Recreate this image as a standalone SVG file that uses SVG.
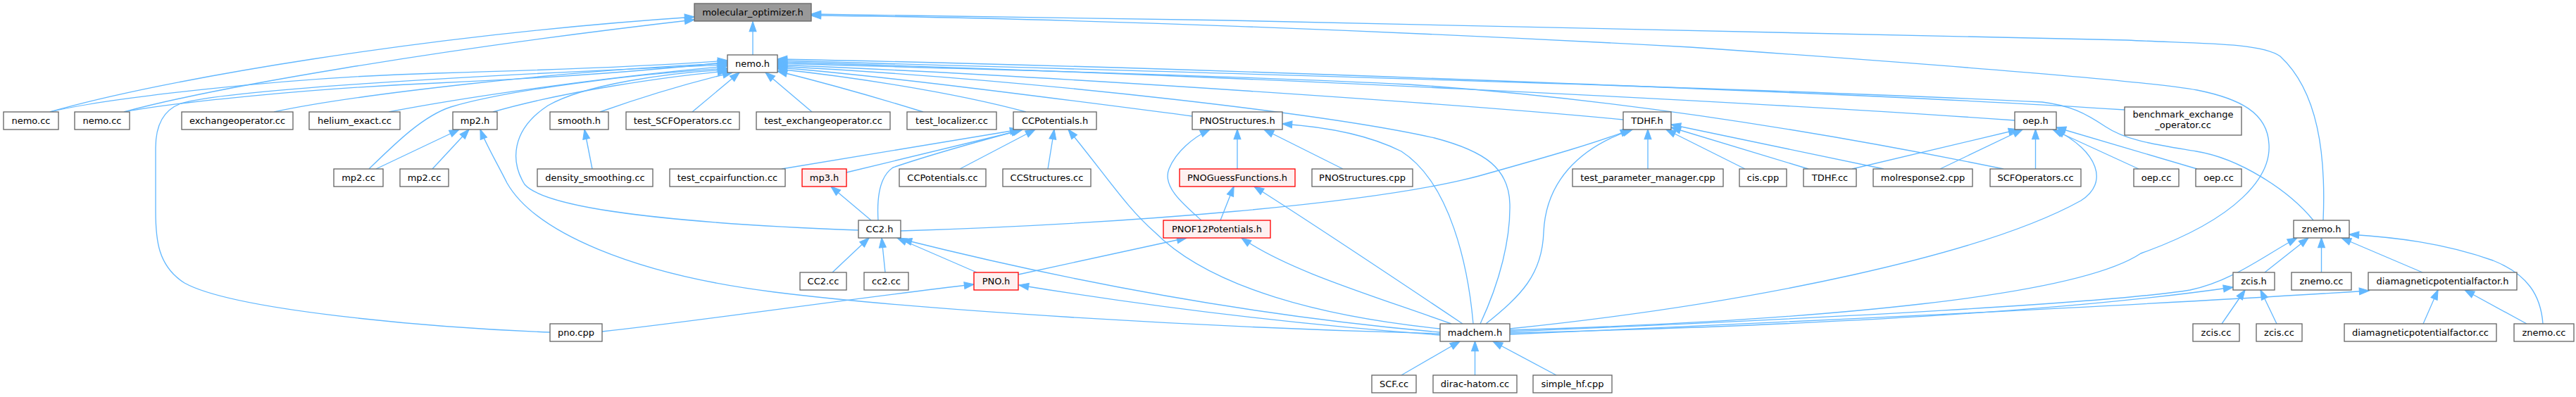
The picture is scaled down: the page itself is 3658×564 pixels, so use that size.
<svg xmlns="http://www.w3.org/2000/svg" width="3658" height="564" viewBox="0 0 3658 564">
<defs>
<style>
.node rect{fill:#ffffff;stroke:#666666;stroke-width:1.33}
.node.root rect{fill:#999999}
.node.red rect{fill:#fff0f0;stroke:#ff0000}
.node text{font-family:"DejaVu Sans","Liberation Sans",sans-serif;font-size:13px;fill:#000000;text-anchor:middle}
#edges path{fill:none;stroke:#63b8ff;stroke-width:1.33;marker-end:url(#arr)}
</style>
<marker id="arr" markerUnits="userSpaceOnUse" markerWidth="14" markerHeight="10" viewBox="0 0 13.3 9.4" refX="13" refY="4.7" orient="auto" overflow="visible">
<path d="M0,0 L13.3,4.7 L0,9.4 Z" fill="#63b8ff" stroke="#63b8ff" stroke-width="1"/>
</marker>
</defs>
<rect width="3658" height="564" fill="#ffffff"/>
<g id="edges">
<path d="M1069,78 L1069,31"/>
<path d="M71,159 C230,113 600,50 986,24"/>
<path d="M176,159 C300,125 620,70 986,28"/>
<path d="M3299,313 C3303,220 3292,130 3238,80 C3210,60 3120,62 3020,57 C2600,45 1800,28 1152,20"/>
<path d="M2144,469 C2600,455 2950,420 3040,360 C3180,310 3225,250 3222,205 C3220,160 3180,140 3120,128 C3060,117 2800,95 2400,67 C2000,45 1500,25 1152,22"/>
<path d="M71,159 C150,140 400,110 620,104 C800,99 950,92 1033,86"/>
<path d="M176,159 C250,145 450,125 620,118 C800,110 950,98 1033,88"/>
<path d="M389,159 C500,135 800,100 1033,90"/>
<path d="M552,159 C650,140 850,110 1033,94"/>
<path d="M524,240 C560,205 600,165 640,152 C720,128 900,105 1033,97"/>
<path d="M781,472 C600,465 330,440 262,402 C224,378 221,340 221,300 L221,210 C221,175 235,155 257,147 C320,128 650,108 1033,92"/>
<path d="M1219,327 C900,315 770,290 745,262 C725,230 725,185 778,150 C830,120 950,103 1033,99"/>
<path d="M700,159 C800,130 950,108 1033,101"/>
<path d="M852,159 C920,135 990,115 1040,103"/>
<path d="M983,159 L1050,103"/>
<path d="M1153,159 L1087,103"/>
<path d="M1311,159 C1250,140 1160,115 1104,101"/>
<path d="M1457,159 C1350,130 1200,108 1104,98"/>
<path d="M1693,165 C1500,140 1250,107 1104,96"/>
<path d="M2102,460 C2130,400 2145,340 2144,290 C2143,240 2110,215 2037,196 C1900,165 1500,115 1104,94"/>
<path d="M2305,170 C2100,150 1500,108 1104,92"/>
<path d="M2845,240 C2600,190 2300,140 2000,120 C1700,105 1300,96 1104,90"/>
<path d="M2861,171 C2500,145 1700,105 1104,88"/>
<path d="M3285,313 C3250,270 3180,225 3119,215 C3060,205 3020,200 2990,180 C2960,160 2940,150 2900,145 C2500,125 1600,100 1104,86"/>
<path d="M3017,156 C2700,135 1700,95 1104,84"/>
<path d="M534,240 L652,184"/>
<path d="M614,240 L666,184"/>
<path d="M2045,474 C1700,465 1300,440 1100,415 C900,390 760,330 720,260 C705,230 690,205 682,184"/>
<path d="M841,240 L830,184"/>
<path d="M1110,240 L1448,184"/>
<path d="M1202,245 L1450,185"/>
<path d="M1247,313 C1245,280 1250,250 1268,238 C1320,220 1400,198 1452,184"/>
<path d="M1363,240 L1470,184"/>
<path d="M1488,240 L1497,184"/>
<path d="M2045,467 C1880,450 1720,410 1640,330 C1600,295 1575,255 1517,184"/>
<path d="M1237,313 L1180,265"/>
<path d="M1182,387 L1234,338"/>
<path d="M1257,387 L1252,338"/>
<path d="M1387,387 L1274,338"/>
<path d="M2045,472 C1850,455 1600,420 1281,340"/>
<path d="M1279,328 C1600,318 1950,290 2100,250 C2200,222 2270,202 2315,184"/>
<path d="M855,471 C1000,455 1200,425 1383,404"/>
<path d="M2045,476 C1800,458 1600,430 1447,405"/>
<path d="M1446,390 L1685,338"/>
<path d="M1757,240 L1757,184"/>
<path d="M1706,313 C1680,290 1650,265 1660,240 C1670,215 1695,195 1718,184"/>
<path d="M1907,240 L1795,184"/>
<path d="M2092,460 C2085,380 2060,260 1990,215 C1940,190 1880,180 1821,176"/>
<path d="M1733,313 L1752,265"/>
<path d="M2077,460 C1980,395 1860,315 1781,265"/>
<path d="M2061,460 C1950,420 1830,385 1763,338"/>
<path d="M2110,460 C2160,420 2190,390 2192,330 C2195,260 2240,210 2318,184"/>
<path d="M2340,240 L2340,184"/>
<path d="M2478,240 L2366,184"/>
<path d="M2568,240 L2373,181"/>
<path d="M2675,240 L2373,177"/>
<path d="M2630,240 L2866,184"/>
<path d="M2755,240 L2872,184"/>
<path d="M2890.5,240 L2890.5,184"/>
<path d="M3037,240 L2915,184"/>
<path d="M3120,240 L2920,181"/>
<path d="M2144,467 C2500,430 2820,360 2955,285 C2995,260 2980,215 2918,184"/>
<path d="M3216,387 L3278,338"/>
<path d="M3296.5,387 L3296.5,338"/>
<path d="M3440,387 L3325,338"/>
<path d="M3611,460 C3608,420 3590,390 3540,370 C3470,345 3400,337 3336,333"/>
<path d="M2144,471 C2600,452 3000,430 3110,412 C3170,400 3220,360 3262,338"/>
<path d="M3155,460 L3188,412"/>
<path d="M3233,460 L3210,412"/>
<path d="M2144,473 C2600,462 2950,440 3171,408"/>
<path d="M3441,460 L3462,412"/>
<path d="M3588,460 L3500,412"/>
<path d="M2144,475 C2600,455 3000,436 3364,413"/>
<path d="M1990,533 L2073,485"/>
<path d="M2094.5,533 L2094.5,485"/>
<path d="M2210,533 L2120,485"/>
</g>
<g id="n0" class="node root"><rect x="986" y="5" width="166" height="25"/><text x="1069" y="22">molecular_optimizer.h</text></g>
<g id="n1" class="node"><rect x="1033" y="78" width="71" height="25"/><text x="1068.5" y="95">nemo.h</text></g>
<g id="n2" class="node"><rect x="5" y="159" width="78" height="25"/><text x="44" y="176">nemo.cc</text></g>
<g id="n3" class="node"><rect x="106" y="159" width="78" height="25"/><text x="145" y="176">nemo.cc</text></g>
<g id="n4" class="node"><rect x="258" y="159" width="158" height="25"/><text x="337" y="176">exchangeoperator.cc</text></g>
<g id="n5" class="node"><rect x="439" y="159" width="129" height="25"/><text x="503.5" y="176">helium_exact.cc</text></g>
<g id="n6" class="node"><rect x="643" y="159" width="63" height="25"/><text x="674.5" y="176">mp2.h</text></g>
<g id="n7" class="node"><rect x="781" y="159" width="83" height="25"/><text x="822.5" y="176">smooth.h</text></g>
<g id="n8" class="node"><rect x="889" y="159" width="161" height="25"/><text x="969.5" y="176">test_SCFOperators.cc</text></g>
<g id="n9" class="node"><rect x="1074" y="159" width="190" height="25"/><text x="1169" y="176">test_exchangeoperator.cc</text></g>
<g id="n10" class="node"><rect x="1288" y="159" width="127" height="25"/><text x="1351.5" y="176">test_localizer.cc</text></g>
<g id="n11" class="node"><rect x="1439" y="159" width="118" height="25"/><text x="1498" y="176">CCPotentials.h</text></g>
<g id="n12" class="node"><rect x="1693" y="159" width="128" height="25"/><text x="1757" y="176">PNOStructures.h</text></g>
<g id="n13" class="node"><rect x="2305" y="159" width="68" height="25"/><text x="2339" y="176">TDHF.h</text></g>
<g id="n14" class="node"><rect x="2861" y="159" width="59" height="25"/><text x="2890.5" y="176">oep.h</text></g>
<g id="n15" class="node"><rect x="3017" y="152" width="166" height="40"/><text x="3100" y="167">benchmark_exchange</text><text x="3100" y="182">_operator.cc</text></g>
<g id="n16" class="node"><rect x="474" y="240" width="70" height="25"/><text x="509" y="257">mp2.cc</text></g>
<g id="n17" class="node"><rect x="568" y="240" width="69" height="25"/><text x="602.5" y="257">mp2.cc</text></g>
<g id="n18" class="node"><rect x="763" y="240" width="164" height="25"/><text x="845" y="257">density_smoothing.cc</text></g>
<g id="n19" class="node"><rect x="951" y="240" width="164" height="25"/><text x="1033" y="257">test_ccpairfunction.cc</text></g>
<g id="n20" class="node red"><rect x="1139" y="240" width="63" height="25"/><text x="1170.5" y="257">mp3.h</text></g>
<g id="n21" class="node"><rect x="1277" y="240" width="123" height="25"/><text x="1338.5" y="257">CCPotentials.cc</text></g>
<g id="n22" class="node"><rect x="1424" y="240" width="125" height="25"/><text x="1486.5" y="257">CCStructures.cc</text></g>
<g id="n23" class="node red"><rect x="1675" y="240" width="164" height="25"/><text x="1757" y="257">PNOGuessFunctions.h</text></g>
<g id="n24" class="node"><rect x="1863" y="240" width="143" height="25"/><text x="1934.5" y="257">PNOStructures.cpp</text></g>
<g id="n25" class="node"><rect x="2233" y="240" width="214" height="25"/><text x="2340" y="257">test_parameter_manager.cpp</text></g>
<g id="n26" class="node"><rect x="2470" y="240" width="67" height="25"/><text x="2503.5" y="257">cis.cpp</text></g>
<g id="n27" class="node"><rect x="2561" y="240" width="75" height="25"/><text x="2598.5" y="257">TDHF.cc</text></g>
<g id="n28" class="node"><rect x="2660" y="240" width="141" height="25"/><text x="2730.5" y="257">molresponse2.cpp</text></g>
<g id="n29" class="node"><rect x="2826" y="240" width="129" height="25"/><text x="2890.5" y="257">SCFOperators.cc</text></g>
<g id="n30" class="node"><rect x="3030" y="240" width="64" height="25"/><text x="3062" y="257">oep.cc</text></g>
<g id="n31" class="node"><rect x="3118" y="240" width="65" height="25"/><text x="3150.5" y="257">oep.cc</text></g>
<g id="n32" class="node"><rect x="1219" y="313" width="60" height="25"/><text x="1249" y="330">CC2.h</text></g>
<g id="n33" class="node red"><rect x="1652" y="313" width="152" height="25"/><text x="1728" y="330">PNOF12Potentials.h</text></g>
<g id="n34" class="node"><rect x="3257" y="313" width="79" height="25"/><text x="3296.5" y="330">znemo.h</text></g>
<g id="n35" class="node"><rect x="1136" y="387" width="66" height="25"/><text x="1169" y="404">CC2.cc</text></g>
<g id="n36" class="node"><rect x="1227" y="387" width="63" height="25"/><text x="1258.5" y="404">cc2.cc</text></g>
<g id="n37" class="node red"><rect x="1383" y="387" width="63" height="25"/><text x="1414.5" y="404">PNO.h</text></g>
<g id="n38" class="node"><rect x="3171" y="387" width="59" height="25"/><text x="3200.5" y="404">zcis.h</text></g>
<g id="n39" class="node"><rect x="3254" y="387" width="85" height="25"/><text x="3296.5" y="404">znemo.cc</text></g>
<g id="n40" class="node"><rect x="3363" y="387" width="211" height="25"/><text x="3468.5" y="404">diamagneticpotentialfactor.h</text></g>
<g id="n41" class="node"><rect x="781" y="460" width="74" height="25"/><text x="818" y="477">pno.cpp</text></g>
<g id="n42" class="node"><rect x="2045" y="460" width="99" height="25"/><text x="2094.5" y="477">madchem.h</text></g>
<g id="n43" class="node"><rect x="3114" y="460" width="66" height="25"/><text x="3147" y="477">zcis.cc</text></g>
<g id="n44" class="node"><rect x="3204" y="460" width="65" height="25"/><text x="3236.5" y="477">zcis.cc</text></g>
<g id="n45" class="node"><rect x="3329" y="460" width="216" height="25"/><text x="3437" y="477">diamagneticpotentialfactor.cc</text></g>
<g id="n46" class="node"><rect x="3570" y="460" width="85" height="25"/><text x="3612.5" y="477">znemo.cc</text></g>
<g id="n47" class="node"><rect x="1948" y="533" width="63" height="25"/><text x="1979.5" y="550">SCF.cc</text></g>
<g id="n48" class="node"><rect x="2035" y="533" width="119" height="25"/><text x="2094.5" y="550">dirac-hatom.cc</text></g>
<g id="n49" class="node"><rect x="2177" y="533" width="112" height="25"/><text x="2233" y="550">simple_hf.cpp</text></g>
</svg>
